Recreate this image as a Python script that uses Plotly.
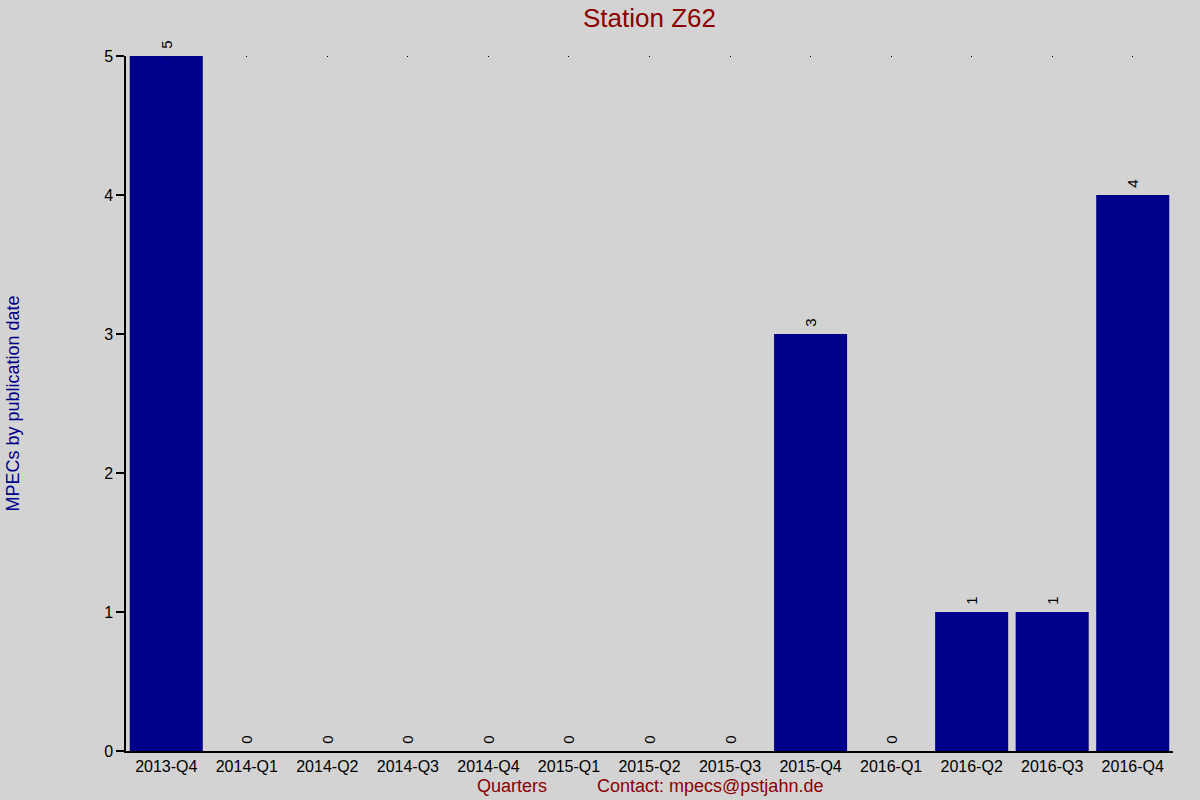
import plotly.graph_objects as go

quarters = ["2013-Q4", "2014-Q1", "2014-Q2", "2014-Q3", "2014-Q4", "2015-Q1", "2015-Q2",
            "2015-Q3", "2015-Q4", "2016-Q1", "2016-Q2", "2016-Q3", "2016-Q4"]
mpecs = [5, 0, 0, 0, 0, 0, 0, 0, 3, 0, 1, 1, 4]
y_ticks = [0, 1, 2, 3, 4, 5]

FONT = "Liberation Sans, Arial, sans-serif"

fig = go.Figure()
fig.add_trace(go.Bar(
    x=quarters, y=mpecs,
    marker=dict(color="#00008B", line=dict(width=0)),
    text=["\u00a0" + str(v) for v in mpecs], textposition="outside", textangle=-90,
    textfont=dict(family=FONT, size=15, color="black"),
    cliponaxis=False, showlegend=False, hoverinfo="x+y",
))
# invisible trace to carry the top axis with small tick dots
fig.add_trace(go.Scatter(x=quarters, y=[None] * len(quarters), xaxis="x2",
                         mode="markers", showlegend=False, hoverinfo="skip"))

fig.update_layout(
    width=1200, height=800,
    paper_bgcolor="#D3D3D3", plot_bgcolor="#D3D3D3",
    margin=dict(l=126, r=27, t=56, b=49, autoexpand=False),
    bargap=0.093,
    font=dict(family=FONT, color="black"),
    title=dict(text="Station Z62", x=(126 + 1173) / 2 / 1200, xanchor="center",
               y=1 - 18 / 800, yanchor="middle",
               font=dict(family=FONT, size=26, color="#8B0000")),
    xaxis=dict(type="category", categoryorder="array", categoryarray=quarters,
               range=[-0.5, len(quarters) - 0.5], automargin=False,
               showline=True, linecolor="black", linewidth=1.5,
               showgrid=False, zeroline=False, ticks="",
               tickfont=dict(family=FONT, size=16, color="black")),
    xaxis2=dict(type="category", categoryorder="array", categoryarray=quarters,
                range=[-0.5, len(quarters) - 0.5], overlaying="x", side="top",
                anchor="y", showline=False, showgrid=False, zeroline=False,
                ticks="inside", ticklen=1, tickwidth=1, tickcolor="black",
                showticklabels=False, automargin=False),
    yaxis=dict(range=[0, 5], tickvals=y_ticks, ticktext=[str(t) for t in y_ticks],
               automargin=False,
               showline=True, linecolor="black", linewidth=1.5,
               showgrid=False, zeroline=False,
               ticks="outside", ticklen=8, tickwidth=1.5, tickcolor="black",
               tickfont=dict(family=FONT, size=16, color="black")),
    annotations=[
        dict(text="Quarters" + "\u00a0" * 10 + "Contact: mpecs@pstjahn.de",
             xref="paper", yref="paper", x=0.5, y=0, xanchor="center", yanchor="middle",
             yshift=-35, showarrow=False,
             font=dict(family=FONT, size=18, color="#8B0000")),
        dict(text="MPECs by publication date",
             xref="paper", yref="paper", x=0, y=0.5, xanchor="center", yanchor="middle",
             xshift=-114, textangle=-90, showarrow=False,
             font=dict(family=FONT, size=18, color="#00008B")),
    ],
)

fig.write_html("out.html",
               config={"displayModeBar": False},
               post_script="document.body.style.margin='0';"
                           "document.body.style.background='#D3D3D3';")
